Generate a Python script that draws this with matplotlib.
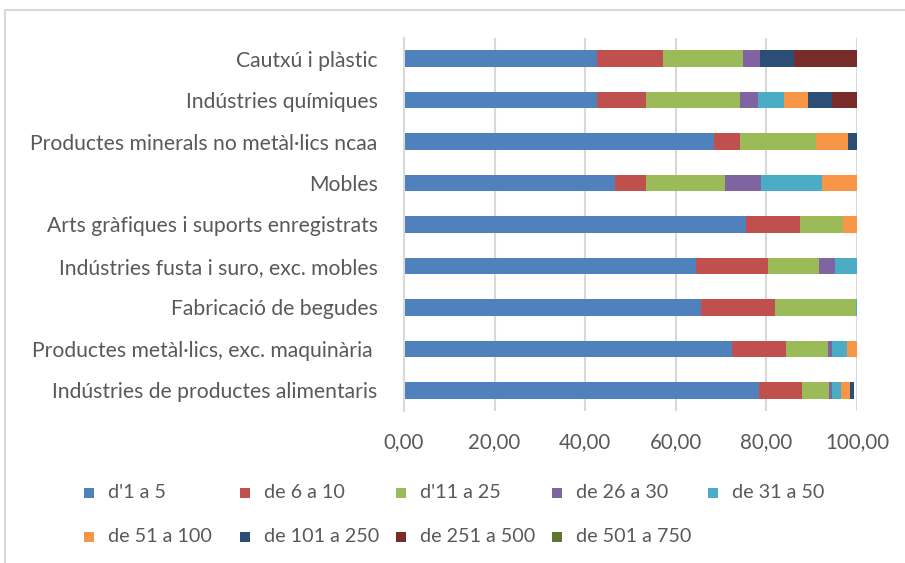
import numpy as np
import matplotlib.pyplot as plt
import matplotlib.patches as patches

plt.rcParams["font.family"] = ["Lato", "DejaVu Sans"]

# categories, top to bottom
categories = [
    "Cautxú i plàstic",
    "Indústries químiques",
    "Productes minerals no metàl·lics ncaa",
    "Mobles",
    "Arts gràfiques i suports enregistrats",
    "Indústries fusta i suro, exc. mobles",
    "Fabricació de begudes",
    "Productes metàl·lics, exc. maquinària ",
    "Indústries de productes alimentaris",
]

series_names = [
    "d'1 a 5", "de 6 a 10", "d'11 a 25", "de 26 a 30", "de 31 a 50",
    "de 51 a 100", "de 101 a 250", "de 251 a 500", "de 501 a 750",
]

s_1_5 = [42.7, 42.5, 68.5, 46.6, 75.5, 64.4, 65.6, 72.5, 78.4]
s_6_10 = [14.5, 10.9, 5.75, 6.9, 11.9, 15.9, 16.2, 11.8, 9.4]
s_11_25 = [17.7, 20.8, 16.8, 17.3, 9.4, 11.3, 17.9, 9.4, 6.1]
s_26_30 = [3.7, 3.9, 0, 8.0, 0, 3.5, 0, 0.7, 0.5]
s_31_50 = [0, 5.7, 0, 13.4, 0, 5.0, 0.4, 3.3, 2.0]
s_51_100 = [0, 5.4, 6.9, 7.9, 3.4, 0, 0, 2.3, 2.05]
s_101_250 = [7.4, 5.3, 2.2, 0, 0, 0, 0, 0, 0.95]
s_251_500 = [14.1, 5.6, 0, 0, 0, 0, 0, 0, 0]
s_501_750 = [0, 0, 0, 0, 0, 0, 0, 0, 0]

xticks = [0, 20, 40, 60, 80, 100]

colors = ["#4F81BD", "#C0504D", "#9BBB59", "#8064A2", "#4BACC6",
          "#F79646", "#2C4D75", "#772C2A", "#5F7530"]
text_col = "#595959"
grid_col = "#D9D9D9"

W, H = 905, 563
fig = plt.figure(figsize=(W / 100, H / 100), dpi=100)

# chart area border (cropped at right/bottom)
fig.patches.append(patches.Rectangle((5 / W, -0.1), 1.2, 1 - 10 / H + 0.1,
                                     transform=fig.transFigure, fill=False,
                                     edgecolor=grid_col, linewidth=1.5))

ax = fig.add_axes([404 / W, 1 - 411 / H, 453 / W, 373 / H])

data = [s_1_5, s_6_10, s_11_25, s_26_30, s_31_50, s_51_100, s_101_250,
        s_251_500, s_501_750]
y = np.arange(len(categories))
left = np.zeros(len(categories))
for vals, c in zip(data, colors):
    ax.barh(y, vals, left=left, height=0.4, color=c, zorder=3)
    left += np.array(vals)

ax.set_xlim(0, 100)
ax.set_ylim(len(categories) - 0.5, -0.5)
ax.set_yticks(y)
ax.set_yticklabels(categories, fontsize=15.2, color=text_col)
ax.set_xticks(xticks)
ax.set_xticklabels([f"{v:.2f}".replace(".", ",") for v in xticks],
                   fontsize=14.8, color=text_col)
ax.tick_params(axis="y", length=0, pad=19)
ax.tick_params(axis="x", length=0, pad=15)
ax.grid(axis="x", color=grid_col, linewidth=1.5, zorder=0)
for s in ["top", "right", "bottom"]:
    ax.spines[s].set_visible(False)
ax.spines["left"].set_color(grid_col)
ax.spines["left"].set_linewidth(1.5)
ax.spines["left"].set_zorder(4)

# legend, laid out in rows of five like the original
for i, (name, c) in enumerate(zip(series_names, colors)):
    col, row = i % 5, i // 5
    xl = 84 + col * 156
    yc = 493 + row * 44
    fig.patches.append(patches.Rectangle((xl / W, 1 - (yc + 5) / H), 10 / W, 10 / H,
                                         transform=fig.transFigure,
                                         facecolor=c, edgecolor="none"))
    fig.text((xl + 24) / W, 1 - yc / H, name, fontsize=14.2, color=text_col,
             va="center", ha="left")

fig.savefig("out.png", dpi=100)
